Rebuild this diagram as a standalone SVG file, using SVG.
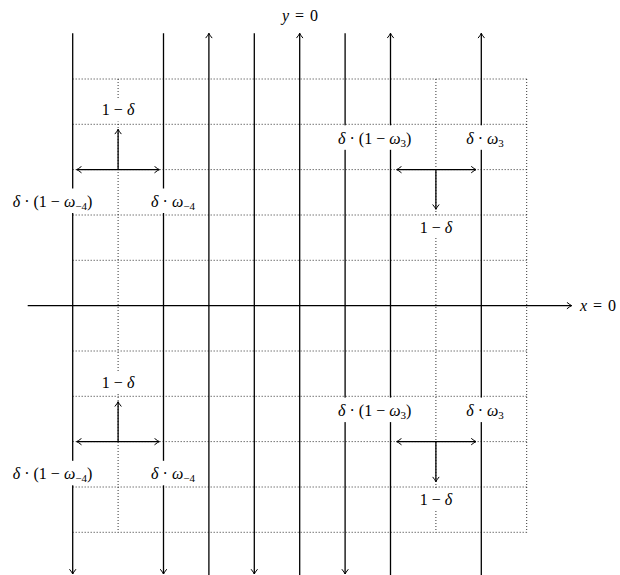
<svg xmlns="http://www.w3.org/2000/svg" width="620" height="575" viewBox="0 0 620 575">
<defs>
<style>
.grid{stroke:#000;stroke-width:0.9;stroke-dasharray:0.9 2.1;fill:none}
.ar{stroke:#000;stroke-width:1.3;fill:none;marker-end:url(#tip)}
.dar{stroke:#000;stroke-width:1.3;fill:none;marker-end:url(#tip);marker-start:url(#tipS)}
.bg{fill:#fff;stroke:none}
text{font-family:"Liberation Serif","DejaVu Serif",serif;font-size:16px;fill:#000;text-anchor:middle}
.i{font-style:italic}
.sub{font-size:11px}
</style>
<marker id="tip" viewBox="-6 -4 7 8" refX="0" refY="0" markerWidth="7" markerHeight="8" markerUnits="userSpaceOnUse" orient="auto">
<path d="M-4.5,-3 Q-1.5,-0.6 0,0 Q-1.5,0.6 -4.5,3" fill="none" stroke="#000" stroke-width="1" stroke-linecap="round"/>
</marker>
<marker id="tipS" viewBox="-6 -4 7 8" refX="0" refY="0" markerWidth="7" markerHeight="8" markerUnits="userSpaceOnUse" orient="auto-start-reverse">
<path d="M-4.5,-3 Q-1.5,-0.6 0,0 Q-1.5,0.6 -4.5,3" fill="none" stroke="#000" stroke-width="1" stroke-linecap="round"/>
</marker>
</defs>
<rect width="620" height="575" fill="#fff"/>

<g id="grid">
<path class="grid" d="M72.7,79H526.7M72.7,124.3H526.7M72.7,169.6H526.7M72.7,215H526.7M72.7,260.3H526.7M72.7,351H526.7M72.7,396.3H526.7M72.7,441.6H526.7M72.7,487H526.7M72.7,532.3H526.7"/>
<path class="grid" d="M118.1,79V532.3M435.9,79V532.3M526.7,79V532.3"/>
</g>

<g id="connectors">
<line class="ar" x1="72.7" y1="33.3" x2="72.7" y2="574"/>
<line class="ar" x1="163.5" y1="33.3" x2="163.5" y2="574"/>
<line class="ar" x1="254.3" y1="33.3" x2="254.3" y2="574"/>
<line class="ar" x1="345.1" y1="33.3" x2="345.1" y2="574"/>
<line class="ar" x1="208.9" y1="575" x2="208.9" y2="33.3"/>
<line class="ar" x1="299.7" y1="575" x2="299.7" y2="33.3"/>
<line class="ar" x1="390.5" y1="575" x2="390.5" y2="33.3"/>
<line class="ar" x1="481.3" y1="575" x2="481.3" y2="33.3"/>
<line id="x-axis" class="ar" x1="27.7" y1="305.6" x2="571.7" y2="305.6"/>

<line class="dar" x1="76.7" y1="169.6" x2="159.3" y2="169.6"/>
<line class="ar" x1="118.1" y1="169.6" x2="118.1" y2="129.3"/>
<line class="dar" x1="76.7" y1="441.6" x2="159.3" y2="441.6"/>
<line class="ar" x1="118.1" y1="441.6" x2="118.1" y2="401.7"/>

<line class="dar" x1="396.7" y1="169.6" x2="476" y2="169.6"/>
<line class="ar" x1="435.9" y1="169.6" x2="435.9" y2="209.3"/>
<line class="dar" x1="396.7" y1="441.6" x2="476" y2="441.6"/>
<line class="ar" x1="435.9" y1="441.6" x2="435.9" y2="481.7"/>
</g>

<g id="label-y0"><text x="300" y="21"><tspan class="i">y</tspan><tspan dx="2"> = </tspan><tspan dx="2">0</tspan></text></g>
<g id="label-x0"><text x="598" y="310.5"><tspan class="i">x</tspan><tspan dx="2"> = </tspan><tspan dx="2">0</tspan></text></g>

<g id="tl-stay"><rect class="bg" x="99" y="99.5" width="38" height="22"/><text x="118.1" y="114.5">1 − <tspan class="i">δ</tspan></text></g>
<g id="tl-left"><rect class="bg" x="6" y="188.5" width="94" height="24.5"/><text x="52.5" y="207"><tspan class="i">δ</tspan> · (1 − <tspan class="i">ω</tspan><tspan class="sub" dy="3">−4</tspan><tspan dy="-3">)</tspan></text></g>
<g id="tl-right"><rect class="bg" x="146" y="188.5" width="54" height="24.5"/><text x="173" y="207"><tspan class="i">δ</tspan> · <tspan class="i">ω</tspan><tspan class="sub" dy="3">−4</tspan></text></g>

<g id="bl-stay"><rect class="bg" x="99" y="372" width="38" height="22"/><text x="118.1" y="387.5">1 − <tspan class="i">δ</tspan></text></g>
<g id="bl-left"><rect class="bg" x="6" y="460.8" width="94" height="24.5"/><text x="52.5" y="479.3"><tspan class="i">δ</tspan> · (1 − <tspan class="i">ω</tspan><tspan class="sub" dy="3">−4</tspan><tspan dy="-3">)</tspan></text></g>
<g id="bl-right"><rect class="bg" x="146" y="460.8" width="54" height="24.5"/><text x="173" y="479.3"><tspan class="i">δ</tspan> · <tspan class="i">ω</tspan><tspan class="sub" dy="3">−4</tspan></text></g>

<g id="tr-left"><rect class="bg" x="333" y="125.3" width="84" height="24.5"/><text x="374.7" y="143.5"><tspan class="i">δ</tspan> · (1 − <tspan class="i">ω</tspan><tspan class="sub" dy="3">3</tspan><tspan dy="-3">)</tspan></text></g>
<g id="tr-right"><rect class="bg" x="462" y="125.3" width="47" height="24.5"/><text x="485" y="143.5"><tspan class="i">δ</tspan> · <tspan class="i">ω</tspan><tspan class="sub" dy="3">3</tspan></text></g>
<g id="tr-stay"><rect class="bg" x="417" y="216" width="38" height="22"/><text x="435.9" y="232.5">1 − <tspan class="i">δ</tspan></text></g>

<g id="br-left"><rect class="bg" x="333" y="397.6" width="84" height="24.5"/><text x="374.7" y="415.8"><tspan class="i">δ</tspan> · (1 − <tspan class="i">ω</tspan><tspan class="sub" dy="3">3</tspan><tspan dy="-3">)</tspan></text></g>
<g id="br-right"><rect class="bg" x="462" y="397.6" width="47" height="24.5"/><text x="485" y="415.8"><tspan class="i">δ</tspan> · <tspan class="i">ω</tspan><tspan class="sub" dy="3">3</tspan></text></g>
<g id="br-stay"><rect class="bg" x="417" y="488" width="38" height="22.5"/><text x="435.9" y="504.5">1 − <tspan class="i">δ</tspan></text></g>
</svg>
